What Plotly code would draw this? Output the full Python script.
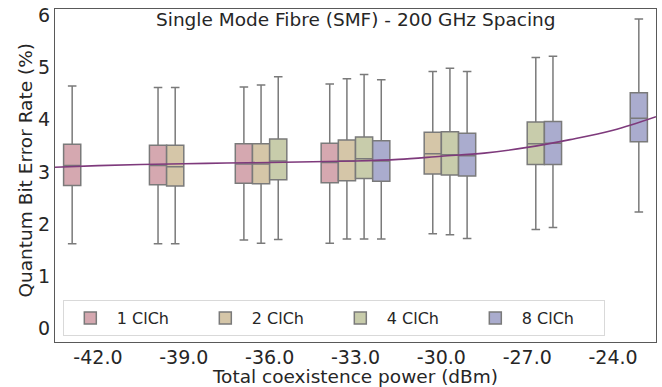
import plotly.graph_objects as go

# ---- data ----
power_dbm = [-42, -39, -36, -33, -30, -27, -24]
tick_labels = ["-42.0", "-39.0", "-36.0", "-33.0", "-30.0", "-27.0", "-24.0"]

series_names = ["1 ClCh", "2 ClCh", "4 ClCh", "8 ClCh"]

# 1 ClCh
x_1 = [-42, -39, -36, -33]
lo_1 = [1.62, 1.62, 1.69, 1.63]
q1_1 = [2.74, 2.75, 2.78, 2.79]
med_1 = [3.12, 3.12, 3.15, 3.18]
q3_1 = [3.53, 3.51, 3.54, 3.55]
hi_1 = [4.65, 4.62, 4.63, 4.69]

# 2 ClCh
x_2 = [-39, -36, -33, -30]
lo_2 = [1.62, 1.63, 1.71, 1.81]
q1_2 = [2.73, 2.77, 2.83, 2.96]
med_2 = [3.10, 3.15, 3.21, 3.35]
q3_2 = [3.51, 3.54, 3.61, 3.76]
hi_2 = [4.62, 4.67, 4.79, 4.93]

# 4 ClCh
x_4 = [-36, -33, -30, -27]
lo_4 = [1.70, 1.71, 1.79, 1.89]
q1_4 = [2.85, 2.87, 2.94, 3.14]
med_4 = [3.21, 3.25, 3.33, 3.54]
q3_4 = [3.63, 3.67, 3.77, 3.96]
hi_4 = [4.83, 4.87, 4.99, 5.20]

# 8 ClCh
x_8 = [-33, -30, -27, -24]
lo_8 = [1.71, 1.72, 1.93, 2.23]
q1_8 = [2.82, 2.92, 3.14, 3.58]
med_8 = [3.21, 3.31, 3.55, 4.03]
q3_8 = [3.60, 3.74, 3.97, 4.52]
hi_8 = [4.77, 4.93, 5.22, 5.94]

# fitted trend line
fit_dbm = [-43.5, -42, -40.5, -39, -37.5, -36, -34.5, -33, -31.5, -30, -28.5, -27, -25.5, -24, -22.5]
fit_qber = [3.09, 3.12, 3.14, 3.155, 3.17, 3.18, 3.195, 3.21, 3.24, 3.30, 3.36, 3.47, 3.62, 3.80, 4.06]

colors = ["#D5A8B0", "#D5C6A8", "#C8CCAB", "#AAACCE"]
edge = "#7a7a7a"

series = [
    (x_1, lo_1, q1_1, med_1, q3_1, hi_1),
    (x_2, lo_2, q1_2, med_2, q3_2, hi_2),
    (x_4, lo_4, q1_4, med_4, q3_4, hi_4),
    (x_8, lo_8, q1_8, med_8, q3_8, hi_8),
]

FONT = "DejaVu Sans"
fig = go.Figure()
for name, col, (xs, lo, q1, med, q3, hi) in zip(series_names, colors, series):
    fig.add_trace(go.Box(
        name=name, x=xs, lowerfence=lo, q1=q1, median=med, q3=q3, upperfence=hi,
        fillcolor=col, line=dict(color=edge, width=1.5), whiskerwidth=0.5,
        boxpoints=False, hoverinfo="skip",
    ))

fig.add_trace(go.Scatter(
    x=fit_dbm, y=fit_qber, mode="lines", line=dict(color="#7E3A7C", width=1.6, shape="spline"),
    showlegend=False, hoverinfo="skip",
))

fig.update_layout(
    width=662, height=387,
    margin=dict(l=55, r=6, t=9, b=45, autoexpand=False),
    paper_bgcolor="white", plot_bgcolor="white",
    boxmode="group", boxgap=0.2, boxgroupgap=0,
    font=dict(family=FONT, color="#262626", size=19),
    showlegend=True,
    legend=dict(
        orientation="h", x=0.013, y=0.018, xanchor="left", yanchor="bottom",
        bgcolor="rgba(255,255,255,0.8)", bordercolor="#d9d9d9", borderwidth=1,
        font=dict(size=16, family=FONT, color="#262626"),
        entrywidth=77, entrywidthmode="pixels", itemwidth=43,
    ),
    annotations=[
        dict(
            text="Single Mode Fibre (SMF) - 200 GHz Spacing", x=0.5, y=1.0, yshift=2,
            xref="paper", yref="paper", xanchor="center", yanchor="top",
            showarrow=False, font=dict(size=18.5, family=FONT, color="#262626"),
        ),
        dict(
            text="Quantum Bit Error Rate (%)", x=0, y=0.5, xshift=-30, yshift=5, textangle=-90,
            xref="paper", yref="paper", xanchor="center", yanchor="middle",
            showarrow=False, font=dict(size=18.5, family=FONT, color="#262626"),
        ),
    ],
)
fig.update_xaxes(
    range=[-43.5, -22.5], tickvals=power_dbm, ticktext=tick_labels,
    showgrid=False, zeroline=False, showline=True, linecolor="#595959", linewidth=1.3,
    mirror=True, ticks="", ticklen=0, tickfont=dict(size=19), automargin=False,
    ticklabelstandoff=-2,
    title=dict(text="Total coexistence power (dBm)", font=dict(size=18.5), standoff=0),
)
fig.update_yaxes(
    range=[-0.27, 6.13], tickvals=[0, 1, 2, 3, 4, 5, 6],
    showgrid=False, zeroline=False, showline=True, linecolor="#595959", linewidth=1.3,
    mirror=True, ticks="", ticklen=0, tickfont=dict(size=19), ticklabelstandoff=0, automargin=False,
)

fig.write_html(
    "out.html",
    config={"displayModeBar": False},
    post_script="document.body.style.margin='0';document.body.style.overflow='hidden';",
)
